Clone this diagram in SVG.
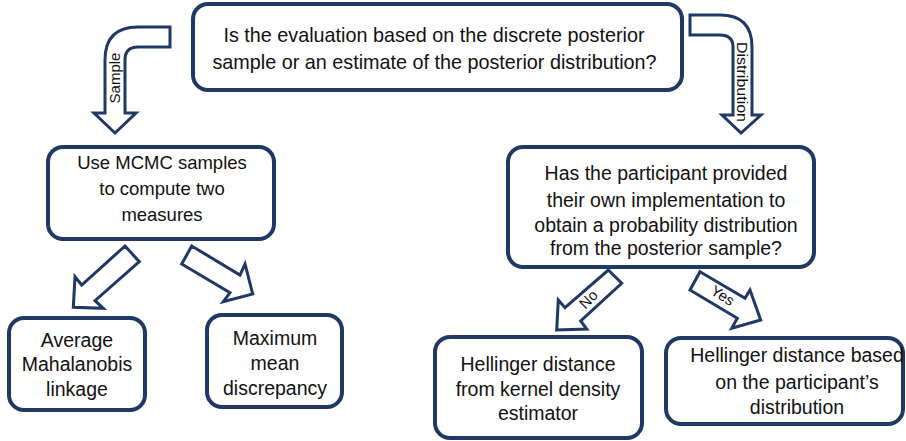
<svg xmlns="http://www.w3.org/2000/svg" width="906" height="441" viewBox="0 0 906 441">
<style>
.box{fill:#fff;stroke:#1f3864;stroke-width:4}
.arr{fill:#fff;stroke:#1f3864;stroke-width:3;stroke-linejoin:miter}
.t{font-family:"Liberation Sans",Arial,sans-serif;font-size:19.5px;fill:#111;text-anchor:middle}
.t1{font-size:19.8px}
.t2{font-size:18.5px}
.s{font-family:"Liberation Sans",Arial,sans-serif;font-size:15px;fill:#111;text-anchor:middle}
</style>
<rect width="906" height="441" fill="#fff"/>
<g id="connectors">
<path class="arr" d="M170,27 L138,27 Q105,27 105,60 L105,113 L94,113 L115,133 L136,113 L125,113 L125,60 Q125,47 138,47 L170,47 Z"/>
<text class="s" transform="translate(120,78) rotate(-90)">Sample</text>
<path class="arr" d="M690,15 L720,15 Q752,15 752,47 L752,115 L761,115 L741,133 L722,115 L733,115 L733,47 Q733,35 720,35 L690,35 Z"/>
<text class="s" transform="translate(737,82) rotate(90)" textLength="80" lengthAdjust="spacingAndGlyphs">Distribution</text>
<polygon class="arr" points="125,246 139.3,261.7 95,300.7 103.3,308.3 73.3,307.3 75,276.7 81.7,285"/>
<polygon class="arr" points="191.7,246 240,275 245,264 252.7,294 223.3,301.7 230,292.7 181.7,264"/>
<polygon class="arr" points="608.3,270 621.7,283.3 580.7,321 586.7,329 556.7,330 558.3,300 565,307.7"/>
<text class="s" transform="translate(592,303) rotate(-45)">No</text>
<polygon class="arr" points="700,271.7 745,298.3 750,290 760.7,320 731.7,328.3 737.3,318.3 690,290"/>
<text class="s" transform="translate(720,300) rotate(32)">Yes</text>
</g>
<g id="q1">
<rect class="box" x="193" y="4" width="489" height="86" rx="15"/>
<text class="t t1" x="434" y="42">Is the evaluation based on the discrete posterior</text>
<text class="t t1" x="434.5" y="69">sample or an estimate of the posterior distribution?</text>
</g>
<g id="mcmc">
<rect class="box" x="48" y="147" width="226" height="92" rx="15"/>
<text class="t t2" x="162" y="169">Use MCMC samples</text>
<text class="t t2" x="162" y="195">to compute two</text>
<text class="t t2" x="162" y="221">measures</text>
</g>
<g id="q2">
<rect class="box" x="508" y="147" width="306" height="120" rx="15"/>
<text class="t" x="666" y="180">Has the participant provided</text>
<text class="t" x="666" y="207">their own implementation to</text>
<text class="t" x="666" y="232">obtain a probability distribution</text>
<text class="t" x="666" y="255">from the posterior sample?</text>
</g>
<g id="aml">
<rect class="box" x="9" y="318" width="136" height="92" rx="15"/>
<text class="t" x="77" y="347">Average</text>
<text class="t" x="77" y="371">Mahalanobis</text>
<text class="t" x="77" y="396">linkage</text>
</g>
<g id="mmd">
<rect class="box" x="207" y="315" width="135" height="92" rx="15"/>
<text class="t" x="275" y="345">Maximum</text>
<text class="t" x="275" y="370">mean</text>
<text class="t" x="275" y="395">discrepancy</text>
</g>
<g id="kde">
<rect class="box" x="435" y="337" width="207" height="101" rx="15"/>
<text class="t" x="538" y="371">Hellinger distance</text>
<text class="t" x="538" y="396">from kernel density</text>
<text class="t" x="538" y="420">estimator</text>
</g>
<g id="part">
<rect class="box" x="666" y="338" width="237" height="86" rx="15"/>
<text class="t" x="797" y="362">Hellinger distance based</text>
<text class="t" x="797" y="389">on the participant’s</text>
<text class="t" x="797" y="414">distribution</text>
</g>
</svg>
